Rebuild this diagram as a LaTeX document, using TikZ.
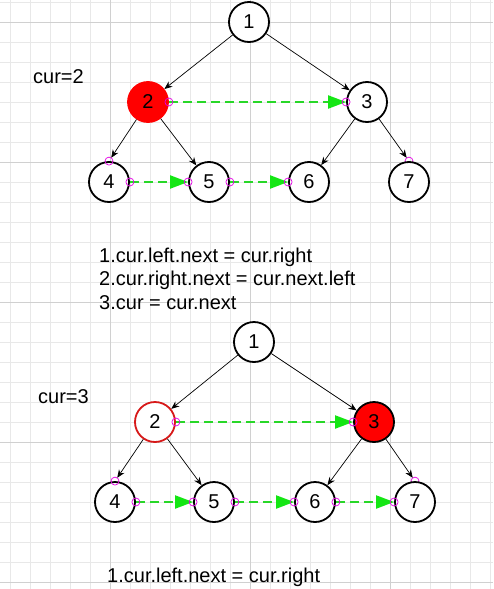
\documentclass[tikz,border=0pt]{standalone}
\usepackage{fontspec}
\setmainfont{Liberation Sans}
\usetikzlibrary{arrows.meta}
\pgfdeclarelayer{bg}
\pgfsetlayers{bg,main}
\definecolor{gridminor}{RGB}{232,232,232}
\definecolor{gridmajor}{RGB}{208,208,208}
\definecolor{dgreen}{RGB}{40,215,40}
\definecolor{hgreen}{RGB}{20,230,20}
\definecolor{pinkc}{RGB}{230,0,230}
\definecolor{redc}{RGB}{255,0,0}
\definecolor{redline}{RGB}{215,25,25}
\begin{document}
\begin{tikzpicture}[x=1pt,y=-1pt,
  tn/.style={circle,draw=black,line width=1.8pt,fill=white,minimum size=40pt,inner sep=0pt,font=\fontsize{20}{24}\selectfont},
  edge/.style={line width=0.7pt,-{Stealth[length=8pt,width=6.5pt]}},
  nxt/.style={draw=dgreen,line width=2pt,dash pattern=on 9pt off 5pt,-{Triangle[length=18pt,width=13pt,fill=hgreen,color=hgreen]}},
  port/.style={draw=pinkc,line width=0.7pt},
  lbl/.style={font=\fontsize{20}{24}\selectfont,inner sep=0pt,anchor=base west}]
\useasboundingbox (0,0) rectangle (493,589);
\begin{pgfonlayer}{bg}
  \fill[white] (0,0) rectangle (493,589);
  \foreach \x in {10,30,...,490} \draw[gridminor,line width=0.8pt] (\x,0) -- (\x,589);
  \foreach \y in {2,22,...,582} \draw[gridminor,line width=0.8pt] (0,\y) -- (493,\y);
  \foreach \x in {110,250,390} \draw[gridmajor,line width=0.8pt] (\x,0) -- (\x,589);
  \foreach \y in {22,162,302,442,582} \draw[gridmajor,line width=0.8pt] (0,\y) -- (493,\y);
\end{pgfonlayer}

% ---------- top tree ----------
\node[tn] (a1) at (249,22) {1};
\node[tn,fill=redc,draw=redc] (a2) at (148,102) {2};
\node[tn] (a3) at (367,102) {3};
\node[tn] (a4) at (109,182) {4};
\node[tn] (a5) at (209,182) {5};
\node[tn] (a6) at (309,182) {6};
\node[tn] (a7) at (409,182) {7};
\node[lbl] (acur) at (33,83) {cur=2};

\draw[edge] (a1) -- (a2);
\draw[edge] (a1) -- (a3);
\draw[edge,shorten >=4pt] (a2) -- (a4.north);
\draw[edge] (a2) -- (a5);
\draw[edge] (a3) -- (a6);
\draw[edge,shorten >=4pt] (a3) -- (a7.north);

\draw[nxt] (a2.east) -- (a3.west);
\draw[nxt] (a4.east) -- (a5.west);
\draw[nxt] (a5.east) -- (a6.west);

\foreach \p in {a2.east,a3.west,a4.east,a5.west,a5.east,a6.west,a4.north}
  \draw[port] (\p) circle[radius=4];
\begin{pgfonlayer}{bg}
  \draw[port] (a7.north) circle[radius=4];
\end{pgfonlayer}

\node[lbl] (l1) at (99,262) {1.cur.left.next = cur.right};
\node[lbl] (l2) at (99,285.5) {2.cur.right.next = cur.next.left};
\node[lbl] (l3) at (99,309) {3.cur = cur.next};

% ---------- bottom tree ----------
\node[tn] (b1) at (254,342) {1};
\node[tn,draw=redline] (b2) at (155,422) {2};
\node[tn,fill=redc] (b3) at (374,422) {3};
\node[tn] (b4) at (115,502) {4};
\node[tn] (b5) at (214,502) {5};
\node[tn] (b6) at (315,502) {6};
\node[tn] (b7) at (415,502) {7};
\node[lbl] (bcur) at (38,403) {cur=3};

\draw[edge] (b1) -- (b2);
\draw[edge] (b1) -- (b3);
\draw[edge,shorten >=4pt] (b2) -- (b4.north);
\draw[edge] (b2) -- (b5);
\draw[edge] (b3) -- (b6);
\draw[edge,shorten >=4pt] (b3) -- (b7.north);

\draw[nxt] (b2.east) -- (b3.west);
\draw[nxt] (b4.east) -- (b5.west);
\draw[nxt] (b5.east) -- (b6.west);
\draw[nxt] (b6.east) -- (b7.west);

\foreach \p in {b2.east,b3.west,b4.east,b5.west,b5.east,b6.west,b6.east,b7.west,b4.north}
  \draw[port] (\p) circle[radius=4];
\begin{pgfonlayer}{bg}
  \draw[port] (b7.north) circle[radius=4];
\end{pgfonlayer}

\node[lbl] (m1) at (107,582) {1.cur.left.next = cur.right};
\end{tikzpicture}
\end{document}
